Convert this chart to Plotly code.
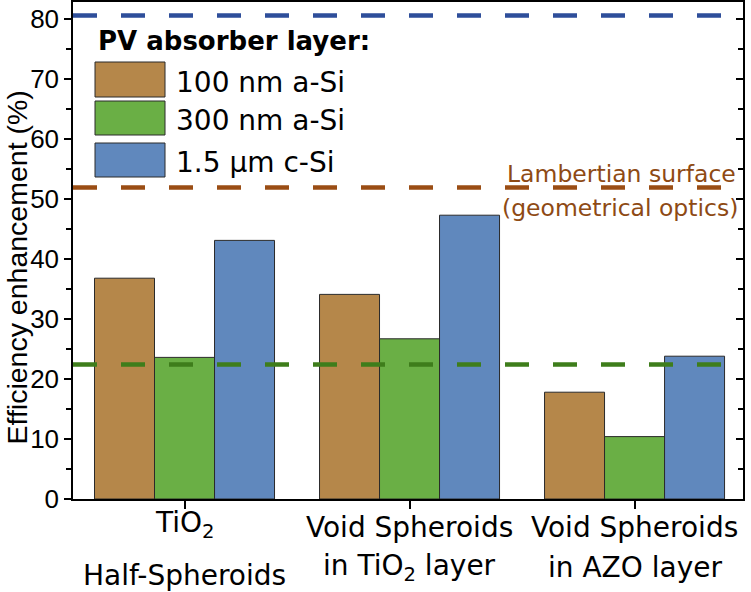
import plotly.graph_objects as go

categories = ["TiO<sub>2</sub><br>Half-Spheroids",
              "Void Spheroids<br>in TiO<sub>2</sub> layer",
              "Void Spheroids<br>in AZO layer"]
series_names = ["100 nm a-Si", "300 nm a-Si", "1.5 \u03bcm c-Si"]
values_100nm = [36.8, 34.1, 17.8]
values_300nm = [23.6, 26.7, 10.4]
values_15um = [43.1, 47.3, 23.8]
limit_values = [80.6, 51.9, 22.4]   # c-Si, 100nm a-Si (Lambertian), 300nm a-Si
bar_colors = ["#B5874A", "#6AAF45", "#6088BD"]
line_colors = ["#2E4E9A", "#9A4D14", "#3E7D1B"]
text_brown = "#8E4A14"
ARIAL = "Liberation Sans, Arial, sans-serif"
WIDE = "DejaVu Sans, sans-serif"

xpos = list(range(len(categories)))

L, R, T, B = 73, 8, 2, 93
W, H = 751, 592
pw, ph = W - L - R, H - T - B
def px(xp): return (xp - L) / pw
def py(yp): return (H - B - yp) / ph

shapes = []
annotations = []
# custom legend
sw_y = [(62, 97), (101, 135), (143, 177)]
txt_y = [82, 120, 162]
for (y0, y1), ty, name, col in zip(sw_y, txt_y, series_names, bar_colors):
    shapes.append(dict(type="rect", xref="paper", yref="paper", x0=px(95), x1=px(165), y0=py(y1), y1=py(y0),
                       fillcolor=col, line=dict(color="#2a2a2a", width=1, dash="solid"), layer="above"))
    annotations.append(dict(xref="paper", yref="paper", x=px(174), y=py(ty), text=name, showarrow=False,
                            xanchor="left", yanchor="middle", font=dict(size=28, color="black", family=WIDE)))
annotations.append(dict(xref="paper", yref="paper", x=px(96), y=py(41), text="<b>PV absorber layer:</b>",
                        showarrow=False, xanchor="left", yanchor="middle", font=dict(size=26, color="black", family=WIDE)))
annotations.append(dict(xref="paper", yref="paper", x=px(738), y=py(174), text="Lambertian surface",
                        showarrow=False, xanchor="right", yanchor="middle", font=dict(size=23.5, color=text_brown, family=WIDE)))
annotations.append(dict(xref="paper", yref="paper", x=px(740), y=py(208), text="(geometrical optics)",
                        showarrow=False, xanchor="right", yanchor="middle", font=dict(size=23.5, color=text_brown, family=WIDE)))
annotations.append(dict(xref="paper", yref="paper", x=px(16.5), y=py(268), text="Efficiency enhancement (%)",
                        showarrow=False, textangle=-90, xanchor="center", yanchor="middle",
                        font=dict(size=28.5, color="black", family=ARIAL)))
# category labels (two lines each)
line1_y = [524, 527, 527]
line2_y = [575, 567, 567]
for xi, cat, y1, y2 in zip(xpos, categories, line1_y, line2_y):
    first, second = cat.split("<br>")
    annotations.append(dict(xref="x", yref="paper", x=xi, y=py(y1), text=first, showarrow=False,
                            xanchor="center", yanchor="middle", font=dict(size=28, color="black", family=WIDE)))
    annotations.append(dict(xref="x", yref="paper", x=xi, y=py(y2), text=second, showarrow=False,
                            xanchor="center", yanchor="middle", font=dict(size=28, color="black", family=WIDE)))

fig = go.Figure()
fig.update_layout(shapes=shapes, annotations=annotations)
for name, vals, col in zip(series_names, [values_100nm, values_300nm, values_15um], bar_colors):
    fig.add_trace(go.Bar(x=xpos, y=vals, name=name, marker=dict(color=col, line=dict(color="#2a2a2a", width=1)),
                         showlegend=False))

for v, c in zip(limit_values, line_colors):
    fig.add_hline(y=v, line=dict(color=c, width=4.5, dash="24px,24px"), layer="above")

# twin axis for inside ticks on the right
fig.add_trace(go.Scatter(x=[None], y=[None], yaxis="y2", showlegend=False))

yr = [0, 82.83]
fig.update_layout(
    width=W, height=H, margin=dict(l=L, r=R, t=T, b=B, autoexpand=False),
    paper_bgcolor="white", plot_bgcolor="white",
    barmode="group", bargap=0.2, bargroupgap=0,
    font=dict(family=ARIAL, size=25, color="black"),
    xaxis=dict(range=[-0.4956, 2.482], tickvals=xpos, ticktext=["", "", ""], ticks="outside", ticklen=8,
               tickwidth=1.5, tickcolor="black", showline=True, linecolor="black", linewidth=1.5, mirror=True,
               showgrid=False, zeroline=False, automargin=False),
    yaxis=dict(range=yr, tickvals=list(range(0, 81, 10)), ticks="outside", ticklen=7, tickwidth=1.5,
               tickcolor="black", showline=True, linecolor="black", linewidth=1.5, mirror=True,
               showgrid=False, zeroline=False, automargin=False, tickfont=dict(size=26, family=ARIAL),
               minor=dict(tickvals=list(range(5, 81, 10)), ticks="outside", ticklen=5, tickwidth=1.5, tickcolor="black")),
    yaxis2=dict(range=yr, overlaying="y", side="right", tickvals=list(range(0, 81, 10)), ticks="inside",
                ticklen=7, tickwidth=1.5, tickcolor="black", showticklabels=False, showgrid=False, zeroline=False,
                automargin=False,
                minor=dict(tickvals=list(range(5, 81, 10)), ticks="inside", ticklen=5, tickwidth=1.5, tickcolor="black")),
)
fig.write_html("out.html", config={"displayModeBar": False},
               post_script="document.body.style.margin='0';document.body.style.padding='0';")
